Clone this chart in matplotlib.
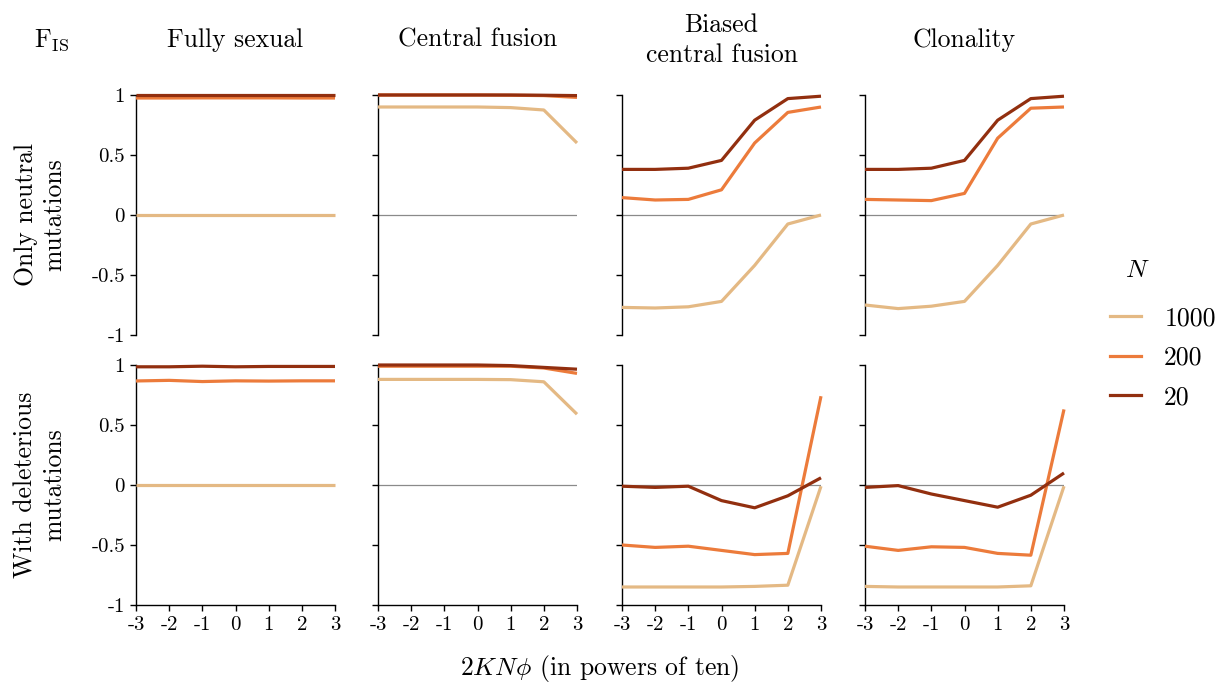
import matplotlib
matplotlib.use("Agg")
import matplotlib.pyplot as plt
from matplotlib.lines import Line2D

plt.rcParams['font.family'] = ['cmr10', 'DejaVu Serif']
plt.rcParams['mathtext.fontset'] = 'cm'
plt.rcParams['axes.unicode_minus'] = False

# data
x = [-3, -2, -1, 0, 1, 2, 3]
x_labels = ['-3', '-2', '-1', '0', '1', '2', '3']
y_ticks = [-1, -0.5, 0, 0.5, 1]
y_labels = ['-1', '-0.5', '0', '0.5', '1']
titles = ['Fully sexual', 'Central fusion', 'Biased\ncentral fusion', 'Clonality']
row_labels = ['Only neutral\nmutations', 'With deleterious\nmutations']
pop_sizes = ['1000', '200', '20']
colors = ['#e4b984', '#ec7b3b', '#922f0f']

# top row: only neutral mutations
neutral_1000 = [
    [0.0, 0.0, 0.0, 0.0, 0.0, 0.0, 0.0],
    [0.90, 0.90, 0.90, 0.90, 0.895, 0.875, 0.60],
    [-0.77, -0.775, -0.765, -0.72, -0.42, -0.075, 0.0],
    [-0.75, -0.78, -0.76, -0.72, -0.42, -0.075, 0.0],
]
neutral_200 = [
    [0.975, 0.975, 0.976, 0.976, 0.976, 0.975, 0.975],
    [1.0, 1.0, 1.0, 1.0, 0.998, 0.995, 0.98],
    [0.145, 0.125, 0.13, 0.21, 0.60, 0.855, 0.90],
    [0.13, 0.125, 0.12, 0.18, 0.64, 0.89, 0.90],
]
neutral_20 = [
    [0.997, 0.997, 0.997, 0.997, 0.997, 0.997, 0.997],
    [1.0, 1.0, 1.0, 1.0, 1.0, 0.998, 0.995],
    [0.38, 0.38, 0.39, 0.455, 0.79, 0.97, 0.99],
    [0.38, 0.38, 0.39, 0.455, 0.79, 0.97, 0.99],
]

# bottom row: with deleterious mutations
delet_1000 = [
    [0.0, 0.0, 0.0, 0.0, 0.0, 0.0, 0.0],
    [0.88, 0.88, 0.88, 0.88, 0.878, 0.86, 0.59],
    [-0.85, -0.85, -0.85, -0.85, -0.845, -0.835, -0.01],
    [-0.845, -0.85, -0.85, -0.85, -0.85, -0.84, -0.01],
]
delet_200 = [
    [0.867, 0.872, 0.862, 0.868, 0.866, 0.868, 0.868],
    [0.99, 0.99, 0.99, 0.99, 0.99, 0.975, 0.93],
    [-0.50, -0.52, -0.51, -0.545, -0.58, -0.57, 0.74],
    [-0.51, -0.545, -0.515, -0.52, -0.57, -0.585, 0.63],
]
delet_20 = [
    [0.985, 0.985, 0.99, 0.985, 0.988, 0.988, 0.988],
    [1.0, 1.0, 1.0, 1.0, 0.995, 0.98, 0.965],
    [-0.01, -0.02, -0.01, -0.13, -0.19, -0.09, 0.06],
    [-0.02, -0.005, -0.075, -0.13, -0.185, -0.085, 0.10],
]

rows = [[neutral_1000, neutral_200, neutral_20],
        [delet_1000, delet_200, delet_20]]

W, H = 1223, 688
fig = plt.figure(figsize=(W / 100, H / 100), dpi=100)

lefts = [136, 378, 622, 865]
bottoms = [335, 605]
aw, ah = 199, 240

for r in range(2):
    for c in range(4):
        ax = fig.add_axes([lefts[c] / W, 1 - bottoms[r] / H, aw / W, ah / H])
        ax.axhline(0, color='#8a8a8a', lw=0.9, zorder=1)
        for series, col in zip(rows[r], colors):
            ax.plot(x, series[c], color=col, lw=2.3, clip_on=False, zorder=3,
                    solid_capstyle='butt')
        ax.set_xlim(-3, 3)
        ax.set_ylim(-1, 1)
        for s in ['top', 'right']:
            ax.spines[s].set_visible(False)
        ax.spines['left'].set_linewidth(1.0)
        ax.spines['bottom'].set_linewidth(1.0)
        ax.set_yticks(y_ticks)
        if c == 0:
            ax.set_yticklabels(y_labels)
        else:
            ax.set_yticklabels([])
        if r == 1:
            ax.set_xticks(x, x_labels)
        else:
            ax.spines['bottom'].set_visible(False)
            ax.set_xticks([])
        ax.tick_params(axis='both', direction='out', length=4, width=1,
                       labelsize=15, pad=4)
        if r == 0:
            ax.text(0.5, 1 + (95 - 40) / ah, titles[c], transform=ax.transAxes,
                    ha='center', va='center', fontsize=18.5, linespacing=1.35)

fig.text(52 / W, 1 - 40 / H, r'F$_{\mathrm{IS}}$', ha='center', va='center',
         fontsize=18.5)
for r, lab in enumerate(row_labels):
    fig.text(40 / W, 1 - (215 + r * 270) / H, lab, rotation=90, ha='center',
             va='center', fontsize=18.5, linespacing=1.25)

fig.text(600 / W, 1 - 668 / H, r'$2KN\phi$ (in powers of ten)', ha='center',
         va='center', fontsize=18.5)

fig.text(1137 / W, 1 - 270 / H, r'$N$', ha='center', va='center', fontsize=18.5)
handles = [Line2D([], [], color=col, lw=2.3) for col in colors]
fig.legend(handles, pop_sizes, loc='upper left',
           bbox_to_anchor=(1100 / W, 1 - 296 / H), frameon=False,
           fontsize=18.5, handlelength=1.2, handletextpad=0.9,
           labelspacing=0.62, borderaxespad=0)

fig.savefig('out.png', dpi=100)
